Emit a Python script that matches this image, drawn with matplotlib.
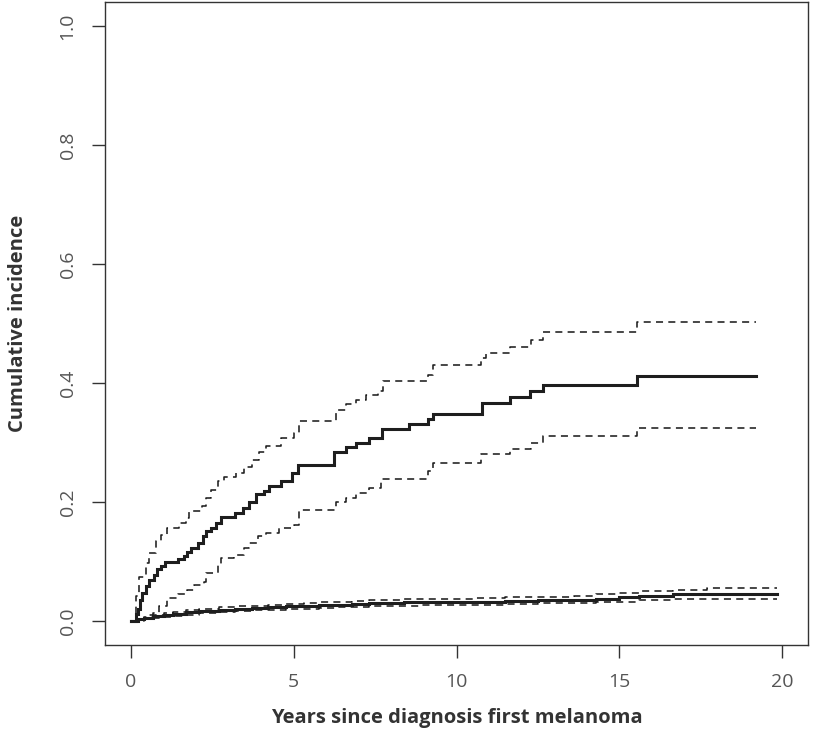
import matplotlib
matplotlib.use("Agg")
import matplotlib.pyplot as plt

# ---- Data ----
# High-risk group: cumulative incidence step function
hi_time = [0, 0.15, 0.2, 0.27, 0.35, 0.45, 0.55, 0.7, 0.81, 0.91, 1.05, 1.45, 1.62, 1.73,
           1.84, 2.05, 2.22, 2.3, 2.45, 2.6, 2.76, 3.2, 3.45, 3.63, 3.84, 4.07, 4.25, 4.6,
           4.96, 5.12, 6.25, 6.62, 6.92, 7.32, 7.71, 8.53, 9.12, 9.28, 10.77, 11.65, 12.27,
           12.66, 15.55, 19.2]
hi_ci = [0, 0.012, 0.02, 0.035, 0.048, 0.059, 0.07, 0.078, 0.087, 0.093, 0.099, 0.104, 0.110,
         0.117, 0.123, 0.131, 0.143, 0.151, 0.157, 0.165, 0.175, 0.182, 0.190, 0.200, 0.213,
         0.219, 0.227, 0.235, 0.249, 0.263, 0.285, 0.293, 0.300, 0.308, 0.323, 0.332, 0.340,
         0.348, 0.366, 0.376, 0.387, 0.397, 0.412, 0.412]
hi_up_time = [0, 0.14, 0.25, 0.45, 0.55, 0.76, 0.91, 1.12, 1.48, 1.68, 1.78, 2.19, 2.3, 2.45,
              2.66, 2.86, 3.22, 3.48, 3.73, 3.94, 4.14, 4.6, 5.02, 5.17, 6.3, 6.6, 6.91, 7.22,
              7.58, 7.73, 9.12, 9.27, 10.76, 10.91, 11.63, 12.3, 12.66, 15.55, 19.2]
hi_upper = [0, 0.042, 0.075, 0.098, 0.115, 0.134, 0.145, 0.157, 0.165, 0.173, 0.185, 0.193,
            0.207, 0.221, 0.235, 0.243, 0.249, 0.259, 0.271, 0.285, 0.294, 0.308, 0.316, 0.337,
            0.355, 0.364, 0.372, 0.380, 0.386, 0.403, 0.414, 0.431, 0.442, 0.450, 0.460, 0.473,
            0.485, 0.502, 0.502]
hi_lo_time = [0, 0.4, 0.55, 0.66, 0.86, 1.12, 1.43, 1.73, 1.94, 2.25, 2.3, 2.66, 2.76, 3.17,
              3.48, 3.63, 3.89, 4.14, 4.55, 5.02, 5.17, 6.3, 6.6, 6.91, 7.32, 7.68, 9.12, 9.27,
              10.76, 11.63, 12.3, 12.66, 15.55, 19.2]
hi_lower = [0, 0.006, 0.010, 0.014, 0.025, 0.039, 0.045, 0.053, 0.060, 0.066, 0.081, 0.095,
            0.106, 0.112, 0.123, 0.132, 0.143, 0.148, 0.157, 0.162, 0.187, 0.200, 0.207, 0.215,
            0.224, 0.238, 0.252, 0.266, 0.280, 0.290, 0.300, 0.311, 0.324, 0.324]

# Low-risk group
lo_time = [0, 0.2, 0.4, 0.66, 1.0, 1.3, 1.68, 2.1, 2.7, 3.2, 3.73, 4.2, 4.76, 5.3, 5.78, 6.3,
           6.8, 7.3, 7.84, 8.4, 8.86, 9.48, 10.5, 11.5, 12.5, 13.6, 14.3, 15.0, 15.6, 16.65,
           17.7, 19.85]
lo_ci = [0, 0.003, 0.005, 0.0085, 0.010, 0.012, 0.015, 0.017, 0.0196, 0.021, 0.022, 0.024,
         0.025, 0.026, 0.0275, 0.028, 0.029, 0.030, 0.031, 0.0315, 0.032, 0.0325, 0.033, 0.034,
         0.035, 0.036, 0.038, 0.040, 0.042, 0.045, 0.046, 0.046]
lo_upper = [0, 0.004, 0.007, 0.011, 0.013, 0.015, 0.018, 0.020, 0.023, 0.025, 0.026, 0.028,
            0.029, 0.030, 0.032, 0.033, 0.034, 0.035, 0.036, 0.037, 0.037, 0.038, 0.039, 0.040,
            0.041, 0.042, 0.045, 0.048, 0.050, 0.052, 0.055, 0.055]
lo_lower = [0, 0.002, 0.003, 0.006, 0.007, 0.009, 0.011, 0.013, 0.015, 0.017, 0.018, 0.019,
            0.020, 0.021, 0.022, 0.023, 0.024, 0.025, 0.025, 0.026, 0.027, 0.028, 0.028, 0.029,
            0.030, 0.031, 0.032, 0.033, 0.035, 0.037, 0.038, 0.038]

x_ticks = [0, 5, 10, 15, 20]
y_ticks = [0.0, 0.2, 0.4, 0.6, 0.8, 1.0]
y_tick_labels = ["0.0", "0.2", "0.4", "0.6", "0.8", "1.0"]
x_label = "Years since diagnosis first melanoma"
y_label = "Cumulative incidence"

# ---- Figure ----
W, H = 827, 748
fig = plt.figure(figsize=(W / 100, H / 100), dpi=100)
ax = fig.add_axes([105 / W, 1 - 645 / H, (808 - 105) / W, (645 - 2) / H])

line_col = "#1e1e1e"
solid_lw = 2.2
dash_lw = 1.15
dash_pat = (4.4, 3.3)

for t, v in [(hi_time, hi_ci), (lo_time, lo_ci)]:
    ax.step(t, v, where="post", color=line_col, lw=solid_lw, solid_joinstyle="miter")
for t, v in [(hi_up_time, hi_upper), (hi_lo_time, hi_lower), (lo_time, lo_upper), (lo_time, lo_lower)]:
    ax.step(t, v, where="post", color=line_col, lw=dash_lw, linestyle=(0, dash_pat))

ax.set_xlim(-0.8, 20.8)
ax.set_ylim(-0.04, 1.04)

tick_font = dict(family=["Open Sans", "DejaVu Sans"], size=14, weight="normal", color="#555555")
ax.set_xticks(x_ticks)
ax.set_xticklabels([str(v) for v in x_ticks], **tick_font)
ax.set_yticks(y_ticks)
ax.set_yticklabels(y_tick_labels, rotation=90, va="center", **tick_font)
ax.tick_params(axis="both", direction="out", length=9.4, width=1.0, color="#333333", pad=11)

for s in ax.spines.values():
    s.set_color("#333333")
    s.set_linewidth(1.0)

lab_font = dict(family=["Open Sans", "DejaVu Sans"], size=14.5, weight="bold", color="#333333")
fig.text(456.5 / W, 1 - 718 / H, x_label, ha="center", va="center", **lab_font)
fig.text(18 / W, 1 - 323 / H, y_label, ha="center", va="center", rotation=90, **lab_font)

fig.savefig("out.png", dpi=100)
